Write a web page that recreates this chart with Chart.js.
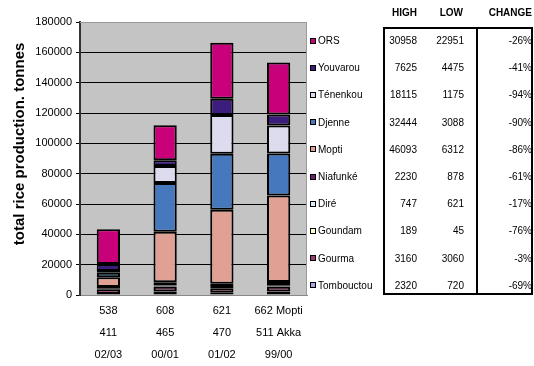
<!DOCTYPE html>
<html>
<head>
<meta charset="utf-8">
<script src="https://cdn.jsdelivr.net/npm/chart.js@4"></script>
<style>
  body { margin: 0; background: #fff; font-family: Arial, "Liberation Sans", sans-serif; }
  #wrap { position: relative; width: 534px; height: 366px; }
  #chart { position: absolute; left: 0; top: 0; }
  .leg { position: absolute; left: 310px; height: 27.2px; display: flex; align-items: center; font-size: 10px; color: #000; }
  .leg i { display: inline-block; width: 4px; height: 4px; border: 1.5px solid #000; margin-right: 2px; }
  .cell { position: absolute; font-size: 10px; line-height: 27.2px; text-align: right; color: #000; }
  .hd { position: absolute; top: 7px; font-size: 10px; font-weight: bold; text-align: right; }
  #box { position: absolute; left: 383px; top: 27px; width: 150px; height: 268px; border: 2px solid #000; box-sizing: border-box; }
  #div { position: absolute; left: 476px; top: 27px; width: 2px; height: 268px; background: #000; }
</style>
</head>
<body>
<div id="wrap">
  <canvas id="chart" width="534" height="366"></canvas>
  <div id="box"></div>
  <div id="div"></div>
</div>
<script>
// x categories (three label lines each)
const categories = [
    ['538', '411', '02/03'],
    ['608', '465', '00/01'],
    ['621', '470', '01/02'],
    ['662 Mopti', '511 Akka', '99/00']
];

// stacked from the bottom up
const regions = ['Tombouctou', 'Gourma', 'Goundam', 'Diré', 'Niafunké', 'Mopti', 'Djenne', 'Ténenkou', 'Youvarou', 'ORS'];
const colors = ['#A8A8E0', '#9C3C6C', '#FFFFCC', '#DCEEFA', '#6E1F6E', '#E0A094', '#4678BE', '#DCDCEE', '#3C1C7C', '#C8007A'];

const tombouctou = [720, 2300, 1500, 2320];
const gourma = [3060, 3100, 3000, 3160];
const goundam = [45, 150, 150, 189];
const dire = [621, 700, 700, 747];
const niafunke = [878, 2230, 2000, 2200];
const mopti = [6312, 33200, 48800, 57000];
const djenne = [3088, 32100, 36900, 27700];
const tenenkou = [1175, 11200, 25700, 18400];
const youvarou = [4475, 3900, 10600, 7300];
const ors = [22951, 23100, 36900, 34300];
const seriesValues = [tombouctou, gourma, goundam, dire, niafunke, mopti, djenne, tenenkou, youvarou, ors];

// side table, same order as the regions list
const high = [2320, 3160, 189, 747, 2230, 46093, 32444, 18115, 7625, 30958];
const low = [720, 3060, 45, 621, 878, 6312, 3088, 1175, 4475, 22951];
const change = ['-69%', '-3%', '-76%', '-17%', '-61%', '-86%', '-90%', '-94%', '-41%', '-26%'];

const yTicks = { min: 0, max: 180000, step: 20000 };

// plot background + grey frame
const plotFrame = {
    id: 'plotFrame',
    beforeDraw(chart) {
        const a = chart.chartArea, ctx = chart.ctx;
        ctx.save();
        ctx.fillStyle = '#C4C4C4';
        ctx.fillRect(a.left, a.top, a.right - a.left, a.bottom - a.top);
        ctx.restore();
    },
    afterDraw(chart) {
        const a = chart.chartArea, ctx = chart.ctx;
        ctx.save();
        ctx.strokeStyle = '#999';
        ctx.lineWidth = 1;
        ctx.beginPath();
        ctx.moveTo(a.left, a.top + 0.5);
        ctx.lineTo(a.right - 0.5, a.top + 0.5);
        ctx.lineTo(a.right - 0.5, a.bottom);
        ctx.stroke();
        ctx.restore();
    }
};

const ctx = document.getElementById('chart').getContext('2d');
new Chart(ctx, {
    type: 'bar',
    data: {
        labels: categories,
        datasets: regions.map((r, i) => ({
            label: r,
            data: seriesValues[i],
            backgroundColor: colors[i],
            borderColor: '#000',
            borderWidth: 2,
            borderSkipped: false,
            categoryPercentage: 1,
            barPercentage: 0.41
        }))
    },
    options: {
        responsive: false,
        animation: false,
        devicePixelRatio: 1,
        layout: { padding: { top: 22, right: 227, left: 0, bottom: 0 } },
        plugins: { legend: { display: false }, tooltip: { enabled: false } },
        scales: {
            x: {
                stacked: true,
                grid: { display: false },
                border: { color: '#888', width: 1 },
                ticks: { color: '#000', padding: -3, maxRotation: 0, font: { family: 'Arial', size: 11, lineHeight: 2 } },
                afterFit(s) { s.height = 71; }
            },
            y: {
                stacked: true,
                min: yTicks.min,
                max: yTicks.max,
                ticks: {
                    stepSize: yTicks.step, color: '#000', padding: 4,
                    font: { family: 'Arial', size: 11 },
                    callback: v => String(v)
                },
                grid: {
                    color: c => (c.tick && (c.tick.value === yTicks.min || c.tick.value === yTicks.max)) ? '#999' : '#000',
                    lineWidth: 1,
                    tickLength: 4,
                    tickColor: '#000'
                },
                border: { color: '#333', width: 2 },
                title: {
                    display: true,
                    // leading spaces lift the centred title a little, as in the original
                    text: '       total rice production. tonnes',
                    color: '#000',
                    font: { family: 'Arial', size: 15, weight: 'bold' },
                    padding: { top: 11, bottom: 0 }
                },
                afterFit(s) { s.width = 80; }
            }
        }
    },
    plugins: [plotFrame]
});

// legend + table, ORS on top
const wrap = document.getElementById('wrap');
const rowH = 27.2, top0 = 27;
[['HIGH', 117], ['LOW', 71], ['CHANGE', 2]].forEach(([t, r]) => {
    const h = document.createElement('div');
    h.className = 'hd';
    h.style.right = r + 'px';
    h.textContent = t;
    wrap.appendChild(h);
});
for (let k = 0; k < regions.length; k++) {
    const i = regions.length - 1 - k;
    const y = top0 + k * rowH;
    const leg = document.createElement('div');
    leg.className = 'leg';
    leg.style.top = y + 'px';
    leg.innerHTML = '<i style="background:' + colors[i] + '"></i>' + regions[i];
    wrap.appendChild(leg);
    [[high[i], 117], [low[i], 70], [change[i], 2]].forEach(([v, r]) => {
        const c = document.createElement('div');
        c.className = 'cell';
        c.style.top = y + 'px';
        c.style.right = r + 'px';
        c.textContent = v;
        wrap.appendChild(c);
    });
}
</script>
</body>
</html>
